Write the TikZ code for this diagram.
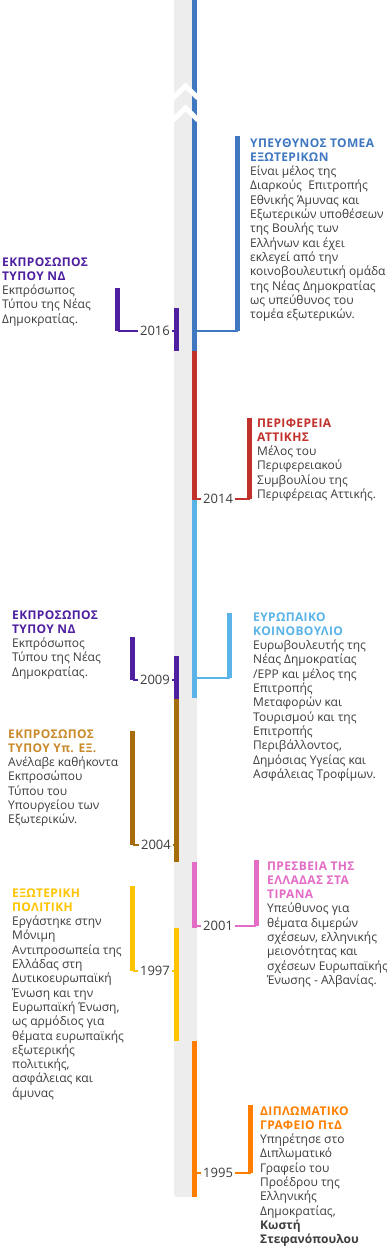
\documentclass[tikz,border=0pt]{standalone}
\usepackage{fontspec}
\setmainfont{Open Sans}
\definecolor{tlgrey}{HTML}{EDEDED}
\definecolor{txtgrey}{HTML}{3C3C3C}
\definecolor{tlblue}{HTML}{3F78C0}
\definecolor{tlred}{HTML}{C1302A}
\definecolor{tlsky}{HTML}{5AB4E8}
\definecolor{tlpurple}{HTML}{4E1F9F}
\definecolor{tlbrown}{HTML}{A66C0C}
\definecolor{tlbrownhd}{HTML}{C98A2B}
\definecolor{tlyellow}{HTML}{FFC400}
\definecolor{tlpink}{HTML}{E26CC6}
\definecolor{tlorange}{HTML}{FF7E00}
\newcommand\hd[2]{\textcolor{#1}{\bfseries\addfontfeatures{LetterSpace=3}#2}}
\tikzset{
x=1pt, y=-1pt, % one unit is one pixel of the layout
bar/.style={line width=5pt}, % coloured pieces of the timeline
brk/.style={line width=5pt}, % bracket beside an entry
lnk/.style={line width=2.5pt}, % link from bracket to timeline
entry/.style={align=left, inner sep=0pt, anchor=base west, text=txtgrey,
  font=\fontsize{12}{14.3}\selectfont}, % placed at the baseline of its last line
year/.style={fill=white, inner xsep=2pt, inner ysep=1pt, text=txtgrey,
  font=\fontsize{13}{13}\selectfont},
}
\begin{document}
\begin{tikzpicture}
\useasboundingbox (0,0) rectangle (387,1249);
\fill[tlgrey, rounded corners=3pt] (174,-10) rectangle (197,1197);

% pieces of the timeline
\draw[bar, tlblue] (194.5,0) -- (194.5,351);
\draw[bar, tlred] (194.5,351) -- (194.5,500);
\draw[bar, tlsky] (194.5,500) -- (194.5,698);
\draw[bar, tlpink] (194.5,862) -- (194.5,928);
\draw[bar, tlorange] (194.5,1041) -- (194.5,1197);
\draw[bar, tlpurple] (176.5,308) -- (176.5,351);
\draw[bar, tlpurple] (176.5,656) -- (176.5,699);
\draw[bar, tlbrown] (176.5,699) -- (176.5,862);
\draw[bar, tlyellow] (176.5,928) -- (176.5,1041);

% chevrons at the top
\draw[white, line width=5pt] (173,98) -- (185.5,86) -- (198,98);
\draw[white, line width=5pt] (173,120) -- (185.5,108) -- (198,120);

% bar ends
\coordinate (bom) at (197,331);
\coordinate (b16) at (174,331);
\coordinate (b14) at (197,499);
\coordinate (bep) at (197,678);
\coordinate (b09) at (174,680);
\coordinate (b04) at (174,845);
\coordinate (b01) at (197,926);
\coordinate (b97) at (174,971);
\coordinate (b95) at (197,1173);

% brackets
\coordinate (kom) at (237.5,331);  \coordinate (komt) at (237.5,136);
\coordinate (k16) at (117.5,331);  \coordinate (k16t) at (117.5,288);
\coordinate (k14) at (249.5,499);  \coordinate (k14t) at (249.5,418);
\coordinate (kep) at (229.5,678);  \coordinate (kept) at (229.5,613);
\coordinate (k09) at (132.5,680);  \coordinate (k09t) at (132.5,637);
\coordinate (k04) at (132.5,845);  \coordinate (k04t) at (132.5,731);
\coordinate (k01) at (256,926);    \coordinate (k01t) at (256,860);
\coordinate (k97) at (132.5,971);  \coordinate (k97t) at (132.5,886);
\coordinate (k95) at (250.5,1173); \coordinate (k95t) at (250.5,1105);

\draw[lnk, tlblue] (bom) -- (kom);
\draw[brk, tlblue] (komt) -- (kom);
\draw[lnk, tlpurple] (b16) -- (k16);
\draw[brk, tlpurple] (k16t) -- (k16);
\draw[lnk, tlred] (b14) -- (k14);
\draw[brk, tlred] (k14t) -- (k14);
\draw[lnk, tlsky] (bep) -- (kep);
\draw[brk, tlsky] (kept) -- (kep);
\draw[lnk, tlpurple] (b09) -- (k09);
\draw[brk, tlpurple] (k09t) -- (k09);
\draw[lnk, tlbrown] (b04) -- (k04);
\draw[brk, tlbrown] (k04t) -- (k04);
\draw[lnk, tlpink] (b01) -- (k01);
\draw[brk, tlpink] (k01t) -- (k01);
\draw[lnk, tlyellow] (b97) -- (k97);
\draw[brk, tlyellow] (k97t) -- (k97);
\draw[lnk, tlorange] (b95) -- (k95);
\draw[brk, tlorange] (k95t) -- (k95);

% years
\node[year, anchor=east] (y16) at (172,331) {2016};
\node[year, anchor=west] (y14) at (201,499) {2014};
\node[year, anchor=east] (y09) at (172,680) {2009};
\node[year, anchor=east] (y04) at (173,845) {2004};
\node[year, anchor=west] (y01) at (201,926) {2001};
\node[year, anchor=east] (y97) at (172,971) {1997};
\node[year, anchor=west] (y95) at (201,1173) {1995};

% entries
\node[entry] (tom) at (250,318.6) {\hd{tlblue}{ΥΠΕΥΘΥΝΟΣ ΤΟΜΕΑ}\\\hd{tlblue}{ΕΞΩΤΕΡΙΚΩΝ}\\
  Είναι μέλος της\\Διαρκούς\ \ Επιτροπής\\Εθνικής Άμυνας και\\Εξωτερικών υποθέσεων\\
  της Βουλής των\\Ελλήνων και έχει\\εκλεγεί από την\\κοινοβουλευτική ομάδα\\
  της Νέας Δημοκρατίας\\ως υπεύθυνος του\\τομέα εξωτερικών.};
\node[entry] (t16) at (2,323.2) {\hd{tlpurple}{ΕΚΠΡΟΣΩΠΟΣ}\\\hd{tlpurple}{ΤΥΠΟΥ ΝΔ}\\
  Εκπρόσωπος\\Τύπου της Νέας\\Δημοκρατίας.};
\node[entry] (t14) at (257,498.5) {\hd{tlred}{ΠΕΡΙΦΕΡΕΙΑ}\\\hd{tlred}{ΑΤΤΙΚΗΣ}\\
  Μέλος του\\Περιφερειακού\\Συμβουλίου της\\Περιφέρειας Αττικής.};
\node[entry] (tep) at (253,778.3) {\hd{tlsky}{ΕΥΡΩΠΑΙΚΟ}\\\hd{tlsky}{ΚΟΙΝΟΒΟΥΛΙΟ}\\
  Ευρωβουλευτής της\\Νέας Δημοκρατίας\\/EPP και μέλος της\\Επιτροπής\\
  Μεταφορών και\\Τουρισμού και της\\Επιτροπής\\Περιβάλλοντος,\\
  Δημόσιας Υγείας και\\Ασφάλειας Τροφίμων.};
\node[entry] (t09) at (12,676.2) {\hd{tlpurple}{ΕΚΠΡΟΣΩΠΟΣ}\\\hd{tlpurple}{ΤΥΠΟΥ ΝΔ}\\
  Εκπρόσωπος\\Τύπου της Νέας\\Δημοκρατίας.};
\node[entry] (t04) at (8,823.8) {\hd{tlbrownhd}{ΕΚΠΡΟΣΩΠΟΣ}\\\hd{tlbrownhd}{ΤΥΠΟΥ Υπ. ΕΞ.}\\
  Ανέλαβε καθήκοντα\\Εκπροσώπου\\Τύπου του\\Υπουργείου των\\Εξωτερικών.};
\node[entry] (t01) at (267,984.4) {\hd{tlpink}{ΠΡΕΣΒΕΙΑ ΤΗΣ}\\\hd{tlpink}{ΕΛΛΑΔΑΣ ΣΤΑ}\\
  \hd{tlpink}{ΤΙΡΑΝΑ}\\Υπεύθυνος για\\θέματα διμερών\\σχέσεων, ελληνικής\\
  μειονότητας και\\σχέσεων Ευρωπαϊκής\\Ένωσης - Αλβανίας.};
\node[entry] (t97) at (12,1097.2) {\hd{tlyellow}{ΕΞΩΤΕΡΙΚΗ}\\\hd{tlyellow}{ΠΟΛΙΤΙΚΗ}\\
  Εργάστηκε στην\\Μόνιμη\\Αντιπροσωπεία της\\Ελλάδας στη\\Δυτικοευρωπαϊκή\\
  Ένωση και την\\Ευρωπαϊκή Ένωση,\\ως αρμόδιος για\\θέματα ευρωπαϊκής\\
  εξωτερικής\\πολιτικής,\\ασφάλειας και\\άμυνας};
\node[entry] (t95) at (260,1243.7) {\hd{tlorange}{ΔΙΠΛΩΜΑΤΙΚΟ}\\\hd{tlorange}{ΓΡΑΦΕΙΟ ΠτΔ}\\
  Υπηρέτησε στο\\Διπλωματικό\\Γραφείο του\\Προέδρου της\\Ελληνικής\\
  Δημοκρατίας,\\\textbf{Κωστή}\\\textbf{Στεφανόπουλου}};
\end{tikzpicture}
\end{document}
